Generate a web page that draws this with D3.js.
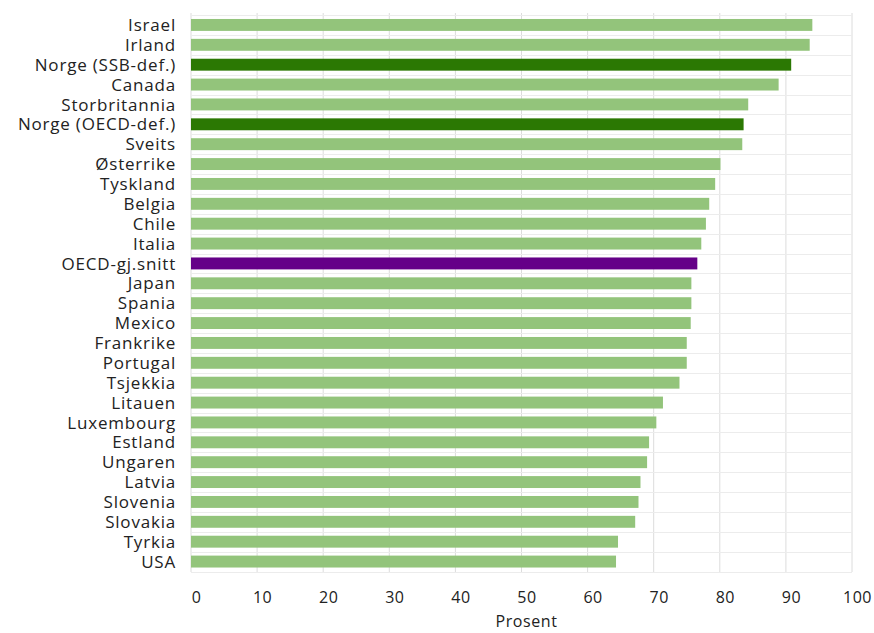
<!DOCTYPE html>
<html><head><meta charset="utf-8">
<script src="https://cdn.jsdelivr.net/npm/d3@7"></script>
<style>body{margin:0;background:#fff;} svg{display:block;}</style>
</head><body>
<script>
const categories = ["Israel","Irland","Norge (SSB-def.)","Canada","Storbritannia","Norge (OECD-def.)","Sveits","Østerrike","Tyskland","Belgia","Chile","Italia","OECD-gj.snitt","Japan","Spania","Mexico","Frankrike","Portugal","Tsjekkia","Litauen","Luxembourg","Estland","Ungaren","Latvia","Slovenia","Slovakia","Tyrkia","USA"];
const values = [94.0,93.6,90.8,88.9,84.3,83.6,83.4,80.1,79.3,78.4,77.9,77.2,76.6,75.7,75.7,75.6,75.0,75.0,73.9,71.4,70.4,69.3,69.0,68.0,67.7,67.2,64.6,64.3];
const highlightNorway = ["Norge (SSB-def.)","Norge (OECD-def.)"];
const highlightAverage = ["OECD-gj.snitt"];
const xTicks = [0,10,20,30,40,50,60,70,80,90,100];
const xTitle = "Prosent";

const W = 874, H = 633;
const svg = d3.select("body").append("svg").attr("width", W).attr("height", H);
const font = "'Open Sans', 'Noto Sans', sans-serif";

const x = d3.scaleLinear().domain([0,100]).range([191, 852]);
const y = d3.scaleBand().domain(categories).range([15, 571.5]).paddingInner(0.4).paddingOuter(0.2);

// grid
const grid = svg.append("g");
grid.selectAll("line.v").data(xTicks).join("line")
  .attr("x1", d => x(d)).attr("x2", d => x(d))
  .attr("y1", 13).attr("y2", 572)
  .attr("stroke", "#dcdcdc").attr("stroke-width", 1);
const step = y.step();
const bounds = d3.range(categories.length + 1).map(i => 15 + i * step);
grid.selectAll("line.h").data(bounds).join("line")
  .attr("x1", x(0)).attr("x2", x(100))
  .attr("y1", d => Math.round(d) + 0.5).attr("y2", d => Math.round(d) + 0.5)
  .attr("stroke", "#ececec").attr("stroke-width", 1);

// bars
svg.append("g").selectAll("rect").data(categories).join("rect")
  .attr("x", x(0))
  .attr("y", d => y(d))
  .attr("width", (d,i) => x(values[i]) - x(0))
  .attr("height", y.bandwidth())
  .attr("fill", d => highlightNorway.includes(d) ? "#2b7803" : highlightAverage.includes(d) ? "#650088" : "#93c47b");

// y labels
svg.append("g").selectAll("text").data(categories).join("text")
  .attr("x", 176)
  .attr("y", d => y(d) + y.bandwidth()/2)
  .attr("dy", "0.36em")
  .attr("text-anchor", "end")
  .attr("font-family", font).attr("font-size", 17)
  .attr("letter-spacing", "0.8px")
  .attr("fill", "#222")
  .text(d => d);

// x axis via d3 axis
const xAxis = d3.axisBottom(x).tickValues(xTicks).tickSize(0).tickPadding(0).tickFormat(d3.format("d"));
const gx = svg.append("g").attr("transform", "translate(5,592)").call(xAxis);
gx.select(".domain").remove();
gx.selectAll("text").attr("font-family", font).attr("font-size", 16).attr("letter-spacing", "0.5px").attr("fill", "#222");

svg.append("text")
  .attr("x", x(50) + 5).attr("y", 627)
  .attr("text-anchor", "middle")
  .attr("font-family", font).attr("font-size", 16)
  .attr("letter-spacing", "0.6px")
  .attr("fill", "#222")
  .text(xTitle);
</script>
</body></html>
